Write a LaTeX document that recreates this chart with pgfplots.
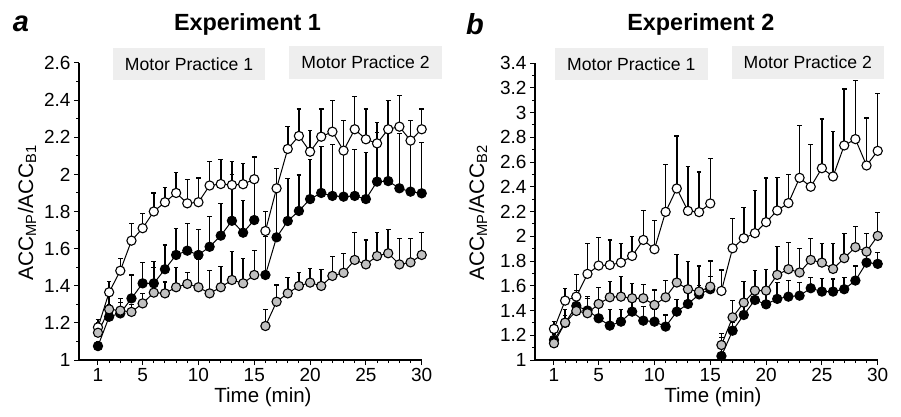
\documentclass[border=0pt]{standalone}
\usepackage{fontspec}
\setmainfont{Liberation Sans}
\usepackage{pgfplots}
\usepackage{pgfplotstable}
\pgfplotsset{compat=1.18}

% columns: minute, open (mean, bar top), black (mean, bar top), grey (mean, bar top)
\pgfplotstableread{
t   w     wt    k     kt    g     gt
1   1.176 1.22  1.075 1.10  1.147 1.20
2   1.365 1.422 1.233 1.30  1.273 1.35
3   1.481 1.548 1.251 1.31  1.266 1.332
4   1.643 1.736 1.332 1.458 1.259 1.30
5   1.71  1.79  1.413 1.526 1.305 1.36
6   1.80  1.90  1.413 1.53  1.363 1.497
7   1.85  1.93  1.489 1.62  1.359 1.42
8   1.90  2.01  1.566 1.709 1.392 1.50
9   1.844 1.974 1.589 1.736 1.41  1.47
10  1.85  1.98  1.566 1.704 1.392 1.543
11  1.94  2.07  1.61  1.772 1.359 1.481
12  1.948 2.08  1.67  1.844 1.392 1.503
13  1.943 2.07  1.75  2.0   1.431 1.584
14  1.947 2.06  1.686 1.858 1.413 1.548
15  1.974 2.095 1.754 2.09  1.458 1.589
nan nan   nan   nan   nan   nan   nan
16  1.695 1.80  1.458 1.664 1.183 1.273
17  1.925 2.03  1.661 2.03  1.314 1.404
18  2.137 2.257 1.749 1.979 1.359 1.444
19  2.207 2.352 1.803 1.997 1.399 1.47
20  2.122 2.235 1.867 2.08  1.417 1.494
21  2.203 2.352 1.90  2.15  1.399 1.489
22  2.23  2.40  1.884 2.16  1.453 1.557
23  2.128 2.29  1.88  2.13  1.47  1.575
24  2.243 2.42  1.884 2.135 1.539 1.688
25  2.189 2.352 1.867 2.117 1.515 1.647
26  2.167 2.279 1.961 2.227 1.56  1.688
27  2.243 2.40  1.964 2.40  1.575 1.704
28  2.257 2.425 1.925 2.221 1.515 1.656
29  2.182 2.29  1.907 2.29  1.526 1.656
30  2.243 2.352 1.898 2.171 1.566 1.688
}\expA

\pgfplotstableread{
t   w     wt    k     kt    g     gt
1   1.251 1.31  1.162 1.21  1.135 1.18
2   1.48  1.58  1.30  1.36  1.302 1.405
3   1.512 1.56  1.437 1.688 1.396 1.45
4   1.696 1.944 1.40  1.50  1.378 1.512
5   1.763 1.99  1.337 1.44  1.453 1.588
6   1.768 1.97  1.278 1.405 1.507 1.634
7   1.787 1.944 1.31  1.405 1.512 1.674
8   1.841 2.0   1.391 1.48  1.499 1.62
9   1.97  2.205 1.318 1.431 1.499 1.61
10  1.895 2.127 1.31  1.41  1.445 1.566
11  2.197 2.578 1.27  1.364 1.507 1.642
12  2.386 2.81  1.391 1.491 1.626 1.85
13  2.205 2.564 1.453 1.55  1.572 1.795
14  2.195 2.52  1.53  1.60  1.553 1.76
15  2.265 2.63  1.572 1.674 1.593 1.80
nan nan   nan   nan   nan   nan   nan
16  1.558 1.728 1.032 1.216 1.121 1.18
17  1.903 2.146 1.237 1.30  1.345 1.48
18  1.984 2.232 1.364 1.45  1.464 1.634
19  2.025 2.367 1.485 1.57  1.561 1.723
20  2.114 2.47  1.45  1.56  1.561 1.734
21  2.208 2.475 1.494 1.626 1.688 1.917
22  2.268 2.50  1.512 1.642 1.734 1.949
23  2.472 2.893 1.52  1.626 1.707 1.903
24  2.40  2.74  1.58  1.669 1.809 1.984
25  2.55  2.947 1.553 1.66  1.787 1.944
26  2.483 2.847 1.553 1.654 1.736 1.944
27  2.734 3.19  1.572 1.669 1.823 2.025
28  2.785 3.257 1.642 1.76  1.912 2.079
29  2.572 2.955 1.787 1.85  1.876 2.025
30  2.69  3.152 1.777 1.868 2.003 2.195
}\expB

\definecolor{markgrey}{RGB}{192,192,192}
\definecolor{boxgrey}{RGB}{238,238,238}

\pgfplotsset{
  panel/.style={
    anchor=south west, scale only axis,
    width=342.7pt, height=297pt,
    xmin=-0.7, xmax=30, ymin=1,
    clip=false, unbounded coords=jump,
    axis x line*=bottom, axis y line*=left,
    axis line style={-, line width=1.2pt},
    x axis line style={-}, y axis line style={-},
    tick align=outside,
    major tick length=5pt, minor tick length=3pt,
    tick style={black, line width=1pt},
    xtick={1,5,10,15,20,25,30},
    minor xtick={1,...,30},
    minor y tick num=1,
    ticklabel style={font=\fontsize{19}{21}\selectfont},
    /pgf/number format/assume math mode=true,
  },
  series/.style={
    black, line width=1pt, mark=*, mark size=4.6pt,
    mark options={fill=#1, draw=black, line width=1.1pt},
    error bars/.cd, y dir=plus, y explicit,
    error bar style={line width=1.5pt, black},
    error mark options={rotate=90, line width=1.2pt, mark size=2.3pt, black},
  },
}

\begin{document}
\begin{tikzpicture}
\path[use as bounding box] (0pt,0pt) rectangle (901pt,416pt);

\begin{axis}[panel, at={(79pt,56pt)}, ymax=2.6, ytick={1,1.2,...,2.6}]
\addplot[series=white] table[x=t, y=w, y error expr=\thisrow{wt}-\thisrow{w}] {\expA};
\addplot[series=black] table[x=t, y=k, y error expr=\thisrow{kt}-\thisrow{k}] {\expA};
\addplot[series=markgrey] table[x=t, y=g, y error expr=\thisrow{gt}-\thisrow{g}] {\expA};
\end{axis}

\begin{axis}[panel, at={(535pt,56pt)}, ymax=3.4, ytick={1,1.2,...,3.4}]
\addplot[series=white] table[x=t, y=w, y error expr=\thisrow{wt}-\thisrow{w}] {\expB};
\addplot[series=black] table[x=t, y=k, y error expr=\thisrow{kt}-\thisrow{k}] {\expB};
\addplot[series=markgrey] table[x=t, y=g, y error expr=\thisrow{gt}-\thisrow{g}] {\expB};
\end{axis}

% panel letters and titles
\node[font=\bfseries\itshape\fontsize{29}{31}\selectfont] at (21pt,392pt) {a};
\node[font=\bfseries\fontsize{23.4}{26}\selectfont] at (247.5pt,392pt) {Experiment 1};
\node[font=\bfseries\itshape\fontsize{29}{31}\selectfont] at (475pt,392pt) {b};
\node[font=\bfseries\fontsize{23.4}{26}\selectfont] at (700.8pt,392pt) {Experiment 2};

% practice blocks
\fill[boxgrey] (113pt,336pt) rectangle (265pt,368pt);
\node[font=\fontsize{17.6}{20}\selectfont] at (189pt,352pt) {Motor Practice 1};
\fill[boxgrey] (289pt,337pt) rectangle (442pt,370pt);
\node[font=\fontsize{17.6}{20}\selectfont] at (365.5pt,353.5pt) {Motor Practice 2};
\fill[boxgrey] (555pt,336pt) rectangle (707.7pt,368pt);
\node[font=\fontsize{17.6}{20}\selectfont] at (631.3pt,352pt) {Motor Practice 1};
\fill[boxgrey] (731.7pt,337pt) rectangle (884pt,370pt);
\node[font=\fontsize{17.6}{20}\selectfont] at (807.8pt,353.5pt) {Motor Practice 2};

% axis titles
\node[rotate=90, font=\fontsize{21}{23}\selectfont] at (27pt,203pt) {ACC\textsubscript{MP}/ACC\textsubscript{B1}};
\node[rotate=90, font=\fontsize{21}{23}\selectfont] at (478pt,203pt) {ACC\textsubscript{MP}/ACC\textsubscript{B2}};
\node[font=\fontsize{20.5}{22}\selectfont] at (263pt,19pt) {Time (min)};
\node[font=\fontsize{20.5}{22}\selectfont] at (713pt,19pt) {Time (min)};
\end{tikzpicture}
\end{document}
